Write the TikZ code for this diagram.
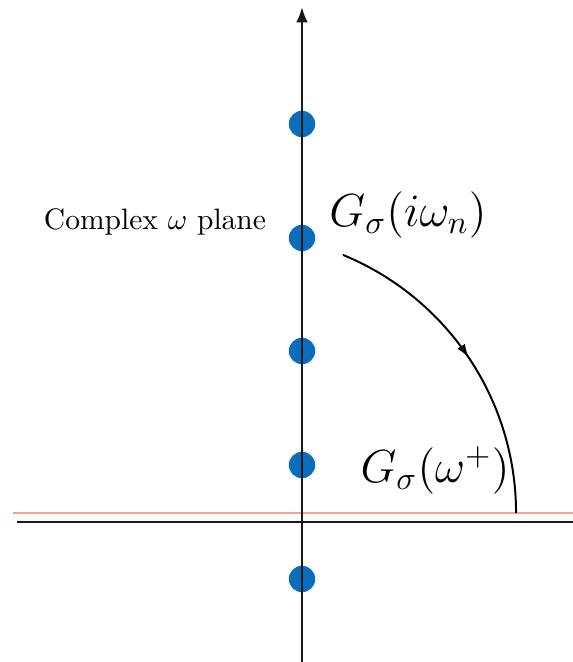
\RequirePackage{fix-cm}
\documentclass[tikz,border=0pt]{standalone}
\usepackage{tikz}
\usetikzlibrary{arrows.meta,decorations.markings}
\definecolor{poleblue}{HTML}{0A6EBD}
\definecolor{realline}{HTML}{F2A58E}

\begin{document}
\begin{tikzpicture}[x=0.0125cm,y=0.0125cm,
  pole/.style={circle,fill=poleblue,inner sep=0pt,minimum size=3.3mm},
  axis/.style={line width=1pt,black!90},
  biglabel/.style={font=\fontsize{16.5}{20}\selectfont},
  contour/.style={line width=0.7pt,postaction={decorate},
    decoration={markings,mark=at position 0.5 with {\arrow{Latex[length=4.8pt,width=3.2pt]}}}}]
  \useasboundingbox (0,0) rectangle (573,662);
  % poles on the imaginary axis
  \foreach \n/\y in {1/538,2/424,3/311,4/197,5/83}{
    \node[pole] (p\n) at (302,\y) {};
  }
  \coordinate (bot) at (302,0);
  \coordinate (top) at (302,655);
  \coordinate (left) at (17,140);
  \coordinate (right) at (573,140);
  \draw[realline,line width=0.7pt] (13,149) -- (573,149);
  \draw[axis] (left) -- (right);
  \draw[axis,line width=0.8pt,-{Latex[length=5.5pt,width=4.2pt]}] (bot) -- (top);
  % continuation
  \coordinate (arcstart) at (342.9,407.1);
  \draw[contour] (arcstart) arc[start angle=67.7,end angle=0,radius=279];
  \node[font=\fontsize{10.5}{12}\selectfont] (plane) at (155,440) {Complex $\omega$ plane};
  \node[biglabel] (gmats) at (408,447) {$G_\sigma(i\omega_n)$};
  \node[biglabel] (gret) at (435,192) {$G_\sigma(\omega^+)$};
\end{tikzpicture}
\end{document}
